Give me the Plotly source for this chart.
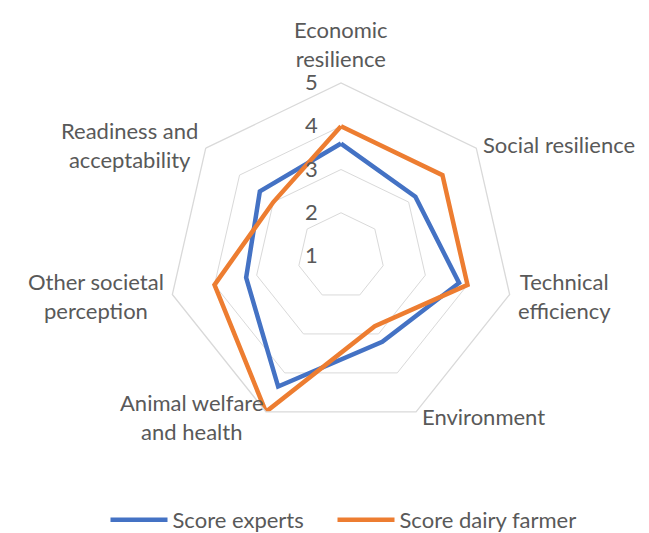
import math
import plotly.graph_objects as go

categories = ["Economic resilience", "Social resilience", "Technical efficiency",
              "Environment", "Animal welfare and health", "Other societal perception",
              "Readiness and acceptability"]
category_labels = ["Economic<br>resilience", "Social resilience", "Technical<br>efficiency",
                   "Environment", "Animal welfare<br>and health", "Other societal<br>perception",
                   "Readiness and<br>acceptability"]
score_experts = [3.6, 3.2, 3.8, 3.2, 4.35, 3.25, 3.4]
score_farmer = [4.0, 4.0, 4.0, 2.8, 5.0, 4.0, 3.0]
radial_ticks = [1, 2, 3, 4, 5]

W, H = 649, 533
cx, cy, R = 333, 248, 173
FONT = "Lato, sans-serif"
GREY = "#595959"
FS = 22

fig = go.Figure()
fig.add_trace(go.Scatterpolar(
    r=score_experts + score_experts[:1], theta=categories + categories[:1],
    mode="lines", name="Score experts", legend="legend", showlegend=True,
    line=dict(color="#4472C4", width=4.5)))
fig.add_trace(go.Scatterpolar(
    r=score_farmer + score_farmer[:1], theta=categories + categories[:1],
    mode="lines", name="Score dairy farmer", legend="legend2", showlegend=True,
    line=dict(color="#ED7D31", width=4.5)))

# category labels placed around the outer polygon vertices (Excel-like placement)
n = len(categories)
label_dx = [0, 5, 6, 4, 0, -6, -6]
annotations = []
for i, lab in enumerate(category_labels):
    ang = math.radians(90 - i * 360 / n)
    px = cx + R * math.cos(ang)
    py = cy - R * math.sin(ang)
    if abs(math.cos(ang)) < 1e-6:
        xa, yc = "center", py - 39
    else:
        xa = "left" if math.cos(ang) > 0 else "right"
        yc = py + (py - cy) * 0.03
    annotations.append(dict(
        text=lab, xref="paper", yref="paper", x=(px + label_dx[i]) / W, y=1 - yc / H,
        xanchor=xa, yanchor="middle", showarrow=False, align="center",
        font=dict(family=FONT, size=FS, color=GREY)))

legend_style = dict(orientation="h", y=0.0, yanchor="bottom", xanchor="left",
                    font=dict(family=FONT, size=FS, color=GREY), itemwidth=57,
                    bgcolor="rgba(0,0,0,0)", visible=True)

fig.update_layout(
    width=W, height=H, margin=dict(l=0, r=0, t=0, b=0),
    paper_bgcolor="white", plot_bgcolor="white",
    showlegend=True,
    font=dict(family=FONT, size=FS, color=GREY),
    polar=dict(
        domain=dict(x=[(cx - R) / W, (cx + R) / W],
                    y=[(H - cy - R) / H, (H - cy + R) / H]),
        gridshape="linear",
        bgcolor="white",
        radialaxis=dict(range=[1, 5], tickvals=radial_ticks, angle=90, tickangle=90,
                        showline=False, gridcolor="#D9D9D9", gridwidth=1.3,
                        ticks="outside", ticklen=15, tickcolor="rgba(0,0,0,0)",
                        side="counterclockwise",
                        tickfont=dict(family=FONT, size=FS, color=GREY)),
        angularaxis=dict(rotation=90, direction="clockwise", showgrid=False,
                         linecolor="#D9D9D9", linewidth=1.3, ticks="",
                         showticklabels=False),
    ),
    annotations=annotations,
    legend=dict(x=(103 - 5.5) / W, **legend_style),
    legend2=dict(x=(330 - 5.5) / W, **legend_style),
)
fig.write_html("out.html")
